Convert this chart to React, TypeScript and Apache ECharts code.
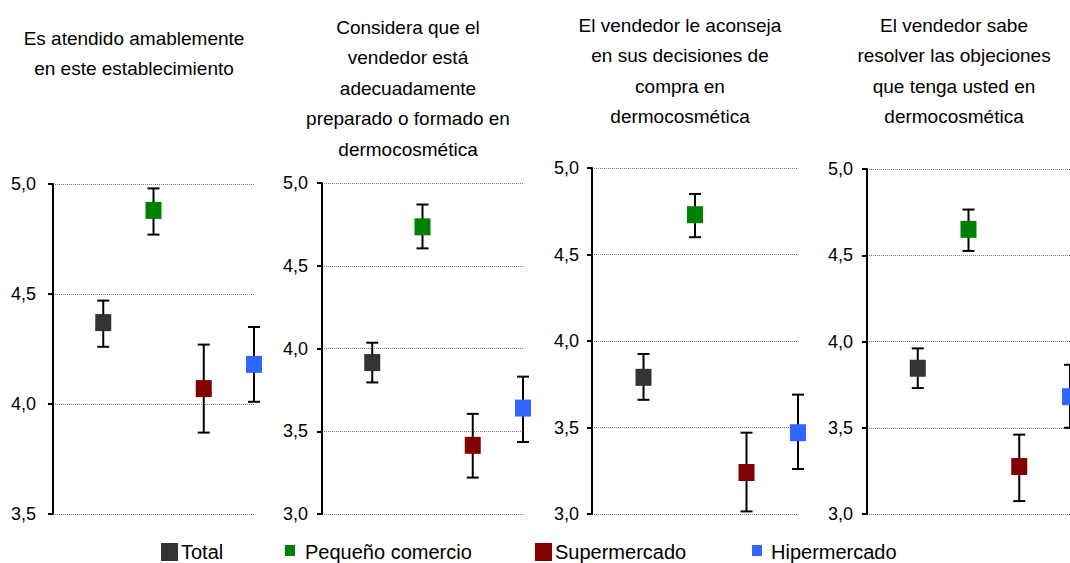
import React, { useEffect, useRef } from "react";
import * as echarts from "echarts";

// Establishment types, in the order they sit along each panel
const categories = ["Total", "Pequeño comercio", "Supermercado", "Hipermercado"];
const colors = ["#333333", "#008000", "#800000", "#3366FF"];

const panelTitles = [
  "Es atendido amablemente\nen este establecimiento",
  "Considera que el\nvendedor está\nadecuadamente\npreparado o formado en\ndermocosmética",
  "El vendedor le aconseja\nen sus decisiones de\ncompra en\ndermocosmética",
  "El vendedor sabe\nresolver las objeciones\nque tenga usted en\ndermocosmética",
];

// Axis ranges per panel
const yMins = [3.5, 3.0, 3.0, 3.0];
const yMax = 5.0;
const yStep = 0.5;

// Mean score and confidence interval per panel (Total, Pequeño, Super, Hiper)
const means1 = [4.37, 4.88, 4.07, 4.18];
const lows1 = [4.26, 4.77, 3.87, 4.01];
const highs1 = [4.47, 4.98, 4.27, 4.35];

const means2 = [3.915, 4.735, 3.415, 3.64];
const lows2 = [3.795, 4.605, 3.22, 3.435];
const highs2 = [4.035, 4.87, 3.605, 3.83];

const means3 = [3.79, 4.73, 3.24, 3.47];
const lows3 = [3.66, 4.6, 3.015, 3.26];
const highs3 = [3.925, 4.85, 3.47, 3.69];

const means4 = [3.845, 4.65, 3.275, 3.68];
const lows4 = [3.73, 4.525, 3.075, 3.5];
const highs4 = [3.96, 4.765, 3.46, 3.865];

const panelMeans = [means1, means2, means3, means4];
const panelLows = [lows1, lows2, lows3, lows4];
const panelHighs = [highs1, highs2, highs3, highs4];

const FONT = "Liberation Sans";

const grids = [
  { left: 53, top: 184, width: 201, height: 330 },
  { left: 322, top: 183, width: 201, height: 331 },
  { left: 592, top: 168, width: 206, height: 346 },
  { left: 867, top: 169, width: 206, height: 345 },
];
const titlePos = [
  { cx: 129, top: 18 },
  { cx: 403, top: 7 },
  { cx: 675, top: 5 },
  { cx: 949, top: 5 },
];
const labelMargins = [17, 14, 13, 14];

const legendItems = [
  { x: 161, y: 543, w: 17, h: 18, tx: 181 },
  { x: 285, y: 545, w: 10, h: 11, tx: 305 },
  { x: 535, y: 543, w: 17, h: 18, tx: 555 },
  { x: 752, y: 545, w: 10, h: 11, tx: 771 },
];

function errorBar(params: any, api: any) {
  const x = api.value(0);
  const lo = api.value(1);
  const hi = api.value(2);
  const top = api.coord([x, hi]);
  const bot = api.coord([x, lo]);
  const hw = 6;
  const style = { stroke: "#000", lineWidth: 2 };
  return {
    type: "group",
    children: [
      { type: "line", shape: { x1: top[0], y1: top[1], x2: bot[0], y2: bot[1] }, style },
      { type: "line", shape: { x1: top[0] - hw, y1: top[1], x2: top[0] + hw, y2: top[1] }, style },
      { type: "line", shape: { x1: bot[0] - hw, y1: bot[1], x2: bot[0] + hw, y2: bot[1] }, style },
    ],
  };
}

export default function App() {
  const ref = useRef<HTMLDivElement>(null);

  useEffect(() => {
    if (!ref.current) return;
    const chart = echarts.init(ref.current, undefined, { renderer: "svg" });

    const series: any[] = [];
    panelMeans.forEach((means, p) => {
      series.push({
        type: "custom",
        xAxisIndex: p,
        yAxisIndex: p,
        z: 2,
        renderItem: errorBar,
        encode: { x: 0, y: [1, 2] },
        data: means.map((_, i) => [i + 1, panelLows[p][i], panelHighs[p][i]]),
      });
      series.push({
        type: "scatter",
        xAxisIndex: p,
        yAxisIndex: p,
        z: 3,
        clip: false,
        symbol: "rect",
        symbolSize: [16, 17],
        itemStyle: { opacity: 1 },
        data: means.map((m, i) => ({
          name: categories[i],
          value: [i + 1, m],
          itemStyle: { color: colors[i], opacity: 1 },
        })),
      });
    });

    const legendGraphics: any[] = [];
    legendItems.forEach((it, i) => {
      legendGraphics.push({
        type: "rect",
        shape: { x: it.x, y: it.y, width: it.w, height: it.h },
        style: { fill: colors[i] },
      });
      legendGraphics.push({
        type: "text",
        x: it.tx,
        y: 552,
        style: {
          text: categories[i],
          fill: "#000",
          font: `20px "${FONT}"`,
          textVerticalAlign: "middle",
          verticalAlign: "middle",
        },
      });
    });

    chart.setOption({
      animation: false,
      backgroundColor: "#fff",
      textStyle: { fontFamily: FONT },
      title: panelTitles.map((t, p) => ({
        text: t,
        left: titlePos[p].cx,
        top: titlePos[p].top,
        textAlign: "center",
        textStyle: {
          fontFamily: FONT,
          fontSize: 19,
          fontWeight: "normal",
          color: "#000",
          lineHeight: 30.5,
        },
      })),
      grid: grids,
      xAxis: grids.map((_, p) => ({
        type: "value",
        gridIndex: p,
        min: 0,
        max: 4,
        show: false,
      })),
      yAxis: grids.map((_, p) => ({
        type: "value",
        gridIndex: p,
        min: yMins[p],
        max: yMax,
        interval: yStep,
        axisLine: { show: true, lineStyle: { color: "#000", width: 2 } },
        axisTick: { show: true, length: 5, lineStyle: { color: "#000", width: 2 } },
        axisLabel: {
          margin: labelMargins[p],
          color: "#000",
          fontFamily: FONT,
          fontSize: 18,
          formatter: (v: number) => v.toFixed(1).replace(".", ","),
        },
        splitLine: { show: true, lineStyle: { color: "#7a7a7a", type: "dotted", width: 1 } },
      })),
      series,
      graphic: legendGraphics,
    });

    return () => chart.dispose();
  }, []);

  return (
    <div
      ref={ref}
      style={{ position: "fixed", left: 0, top: 0, width: 1070, height: 563, background: "#fff" }}
    />
  );
}
